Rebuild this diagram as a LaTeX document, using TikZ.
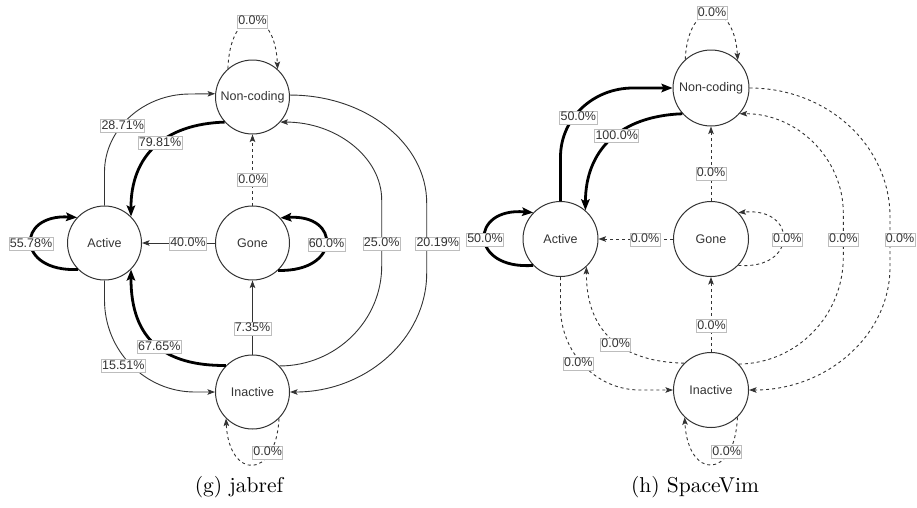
\documentclass[tikz,border=0pt]{standalone}
\usepackage{fontspec}
\newfontfamily\labfont{Liberation Sans}
\newfontfamily\capfont{lmroman10-regular.otf}
\usetikzlibrary{arrows.meta}
\definecolor{ink}{HTML}{333333}
\definecolor{boxc}{HTML}{BDBDBD}
\begin{document}
\begin{tikzpicture}[x=1pt,y=1pt,
  st/.style={circle,draw=ink,line width=1pt,minimum size=74pt,inner sep=0pt,text=ink,font=\labfont\fontsize{12.5}{14}\selectfont},
  lbl/.style={draw=boxc,line width=0.6pt,fill=white,text=ink,font=\labfont\fontsize{12.5}{14}\selectfont,inner xsep=0.8pt,inner ysep=0.5pt,text height=9.3pt,text depth=2.7pt},
  thin/.style={draw=ink,line width=0.9pt,-{Stealth[length=7.5pt,width=5.5pt,inset=1.5pt]}},
  thk/.style={draw=black,line width=2.8pt,-{Stealth[length=11pt,width=8.5pt,inset=2pt]}},
  dsh/.style={thin,dash pattern=on 3pt off 3pt},
  capt/.style={font=\capfont\fontsize{21.5}{26}\selectfont}
]
\path[use as bounding box] (0,0) rectangle (917,-507);

% ---------- left diagram (g) ----------
\node[st] (nc1) at (252.5,-97) {Non-coding};
\node[st] (a1) at (104.5,-243) {Active};
\node[st] (g1) at (252.5,-243) {Gone};
\node[st] (i1) at (252.5,-392) {Inactive};

\draw[dsh] (nc1.131) .. controls (230,-5) and (275,-5) .. (nc1.48);
\draw[thin] (a1.90) -- (104.5,-172) .. controls (104.5,-129.5) and (142.8,-94) .. (190,-94) -- (nc1.175);
\draw[thk] (nc1.222) .. controls (165,-124) and (130.7,-155) .. (a1.45);
\draw[dsh] (g1.90) -- (nc1.270);
\draw[thin] (g1.180) -- (a1.0);
\draw[thk] (g1.313) .. controls (341,-272) and (341,-214) .. (g1.42);
\draw[thk] (a1.225) .. controls (16,-272) and (16,-214) .. (a1.137);
\draw[thin] (i1.90) -- (g1.270);
\draw[thk] (i1.135) .. controls (165,-366) and (130.7,-340) .. (a1.315);
\draw[thin] (a1.270) -- (104.5,-300) .. controls (104.5,-350.8) and (145,-392) .. (195,-392) -- (i1.180);
\draw[thin] (i1.44) .. controls (335.7,-366) and (381.7,-321) .. (381.7,-266) -- (381.7,-200) .. controls (381.7,-157) and (336,-122) .. (nc1.318);
\draw[thin] (nc1.3) .. controls (365.5,-95) and (426.7,-143.4) .. (426.7,-203) -- (426.7,-273) .. controls (426.7,-338.7) and (365.9,-392) .. (i1.0);
\draw[dsh] (i1.315) .. controls (276,-480) and (229,-480) .. (i1.225);

\node[lbl] (l1a) at (252.5,-21.5) {0.0\%};
\node[lbl] (l1b) at (122.7,-126) {28.71\%};
\node[lbl] (l1c) at (160,-143) {79.81\%};
\node[lbl] (l1d) at (252.5,-180) {0.0\%};
\node[lbl] (l1e) at (188,-243.5) {40.0\%};
\node[lbl] (l1f) at (326.5,-244.5) {60.0\%};
\node[lbl] (l1g) at (31,-244) {55.78\%};
\node[lbl] (l1h) at (381.7,-243.5) {25.0\%};
\node[lbl] (l1i) at (437.7,-243.5) {20.19\%};
\node[lbl] (l1j) at (252.5,-328.3) {7.35\%};
\node[lbl] (l1k) at (159.3,-346.7) {67.65\%};
\node[lbl] (l1l) at (123.3,-365.7) {15.51\%};
\node[lbl] (l1m) at (267.7,-452.3) {0.0\%};

% ---------- right diagram (h) ----------
\node[st,minimum size=76pt] (nc2) at (711,-88) {Non-coding};
\node[st,minimum size=75pt] (a2) at (560.5,-239) {Active};
\node[st,minimum size=75pt] (g2) at (711,-239) {Gone};
\node[st,minimum size=75pt] (i2) at (711,-390) {Inactive};

\draw[dsh] (nc2.132) .. controls (688,2) and (734,2) .. (nc2.46);
\draw[thk] (a2.90) -- (560.5,-157) .. controls (560.5,-118.5) and (593,-88) .. (633,-88) -- (nc2.180);
\draw[thk] (nc2.222) .. controls (620,-116) and (585.4,-150) .. (a2.49);
\draw[dsh] (g2.90) -- (nc2.270);
\draw[dsh] (g2.180) -- (a2.0);
\draw[dsh] (g2.316) .. controls (798,-270) and (798,-207) .. (g2.44);
\draw[thk] (a2.224) .. controls (469,-270) and (469,-207) .. (a2.136);
\draw[dsh] (nc2.0) .. controls (827.3,-88) and (890,-145.4) .. (890,-217) -- (890,-267) .. controls (890,-335) and (827.3,-390) .. (i2.0);
\draw[dsh] (i2.43) .. controls (797,-363.3) and (843.3,-315.7) .. (843.3,-257) -- (843.3,-213) .. controls (843.3,-158) and (796.7,-113.3) .. (nc2.318);
\draw[dsh] (i2.90) -- (g2.270);
\draw[dsh] (i2.135) .. controls (625,-362) and (586,-335) .. (a2.313);
\draw[dsh] (a2.270) -- (560.5,-307) .. controls (560.5,-352.8) and (596.1,-390) .. (640,-390) -- (i2.180);
\draw[dsh] (i2.314) .. controls (735,-480) and (688,-480) .. (i2.226);

\node[lbl] (l2a) at (712,-12.7) {0.0\%};
\node[lbl] (l2b) at (578.3,-117.3) {50.0\%};
\node[lbl] (l2c) at (616.7,-136) {100.0\%};
\node[lbl] (l2d) at (711,-173.3) {0.0\%};
\node[lbl] (l2e) at (645,-239.3) {0.0\%};
\node[lbl] (l2f) at (787.3,-239.3) {0.0\%};
\node[lbl] (l2g) at (485,-239.3) {50.0\%};
\node[lbl] (l2h) at (900,-239.3) {0.0\%};
\node[lbl] (l2i) at (843.3,-239.3) {0.0\%};
\node[lbl] (l2j) at (711.5,-325.7) {0.0\%};
\node[lbl] (l2k) at (615.7,-344.3) {0.0\%};
\node[lbl] (l2l) at (578.3,-363.3) {0.0\%};
\node[lbl] (l2m) at (726.7,-451.7) {0.0\%};

% ---------- captions ----------
\node[capt] (c1) at (239,-487) {(g) jabref};
\node[capt] (c2) at (695,-487) {(h) SpaceVim};
\end{tikzpicture}
\end{document}
